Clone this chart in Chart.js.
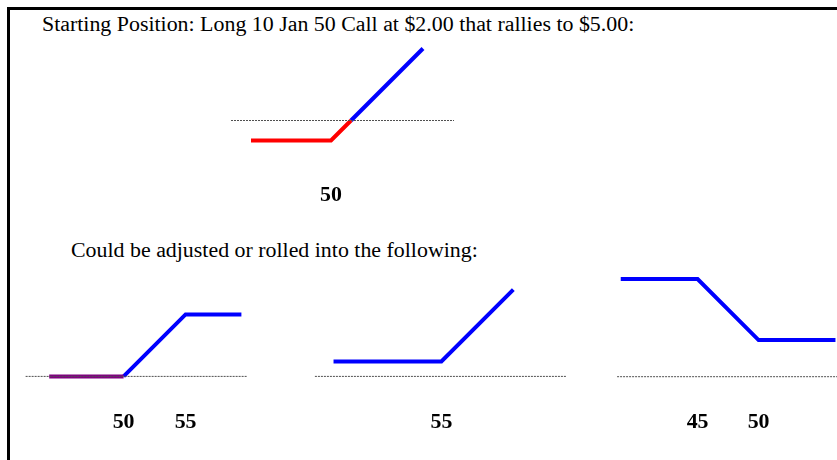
<!DOCTYPE html>
<html>
<head>
<meta charset="utf-8">
<title>Long call adjustments</title>
<script src="https://cdn.jsdelivr.net/npm/chart.js@4.4.0/dist/chart.umd.min.js"></script>
<style>
  html, body { margin: 0; padding: 0; background: #fff; }
  #page { position: relative; width: 837px; height: 460px; overflow: hidden; background: #fff; }
  #frame { position: absolute; left: 7px; top: 7px; width: 840px; height: 460px;
           border-top: 3px solid #000; border-left: 3px solid #000; }
  .caption { position: absolute; font-family: "Liberation Serif", "Times New Roman", serif;
             font-size: 21.9px; line-height: 21.9px; color: #000; white-space: nowrap; }
  canvas { position: absolute; }
</style>
</head>
<body>
<div id="page">
  <div id="frame"></div>
  <div class="caption" style="left:42px; top:12.5px;">Starting Position: Long 10 Jan 50 Call at $2.00 that rallies to $5.00:</div>
  <div class="caption" style="left:71px; top:238.5px;">Could be adjusted or rolled into the following:</div>
  <canvas id="startChart"></canvas>
  <canvas id="spreadChart"></canvas>
  <canvas id="rollChart"></canvas>
  <canvas id="bearChart"></canvas>
</div>
<script>
// ---- Payoff data: underlying price (x) against profit/loss per share (y) ----

// Starting position: long 50 call bought at 2.00
const startStrikes    = [50];
const startLossPrice  = [42, 50, 52];
const startLossPL     = [-2, -2, 0];
const startGainPrice  = [52, 59.2];
const startGainPL     = [0, 7.2];
const startZeroSpan   = [40, 62.3];

// 50/55 bull call spread
const spreadStrikes   = [50, 55];
const spreadFlatPrice = [44, 50];
const spreadFlatPL    = [0, 0];
const spreadUpPrice   = [50, 55, 59.5];
const spreadUpPL      = [0, 5, 5];
const spreadZeroSpan  = [42.1, 60];

// Rolled up into the 55 call
const rollStrikes     = [55];
const rollPrice       = [46.3, 55, 60.8];
const rollPL          = [1.2, 1.2, 7.0];
const rollZeroSpan    = [44.8, 65.1];

// 45/50 spread
const bearStrikes     = [45, 50];
const bearPrice       = [38.7, 45, 50, 56.3];
const bearPL          = [8, 8, 3, 3];
const bearZeroSpan    = [38.4, 56.5];

// ---- helpers ----
const pairs = (xs, ys) => xs.map((x, i) => ({ x, y: ys[i] }));
const zeroLine = span => ({
  data: span.map(x => ({ x, y: 0 })),
  borderColor: '#505050', borderWidth: 1, borderDash: [2, 1], order: 0
});
const payoff = (xs, ys, color) => ({
  data: pairs(xs, ys), borderColor: color, borderWidth: 4, order: 1
});

// Strike labels written under the zero line, placed with the x scale
const strikeLabels = {
  id: 'strikeLabels',
  afterDatasetsDraw(chart, args, opts) {
    const { ctx, scales: { x, y } } = chart;
    ctx.save();
    ctx.font = 'bold 21.9px "Liberation Serif", "Times New Roman", serif';
    ctx.fillStyle = '#000';
    ctx.textAlign = 'center';
    ctx.textBaseline = 'alphabetic';
    const base = y.getPixelForValue(0) + opts.gap;
    for (const v of opts.values) ctx.fillText(String(v), x.getPixelForValue(v), base);
    ctx.restore();
  }
};

function drawPayoff(id, box, range, datasets, strikes, gap) {
  const cv = document.getElementById(id);
  cv.width = box.w; cv.height = box.h;
  Object.assign(cv.style, { left: box.x + 'px', top: box.y + 'px', width: box.w + 'px', height: box.h + 'px' });
  new Chart(cv, {
    type: 'line',
    data: { datasets },
    options: {
      responsive: false, animation: false, devicePixelRatio: 1, events: [],
      layout: { padding: 0 },
      scales: {
        x: { type: 'linear', min: range.x0, max: range.x1, display: false },
        y: { type: 'linear', min: range.y0, max: range.y1, display: false }
      },
      elements: {
        point: { radius: 0 },
        line: { tension: 0, fill: false, borderCapStyle: 'butt', borderJoinStyle: 'miter' }
      },
      plugins: {
        legend: { display: false },
        tooltip: { enabled: false },
        strikeLabels: { values: strikes, gap }
      }
    },
    plugins: [strikeLabels]
  });
}

drawPayoff('startChart',
  { x: 221, y: 40, w: 250, h: 170 }, { x0: 39, x1: 64, y0: -8.95, y1: 8.05 },
  [ payoff(startLossPrice, startLossPL, '#ff0000'),
    payoff(startGainPrice, startGainPL, '#0000ff'),
    zeroLine(startZeroSpan) ],
  startStrikes, 80);

drawPayoff('spreadChart',
  { x: 12, y: 271, w: 248, h: 186 }, { x0: 41, x1: 61, y0: -6.5, y1: 8.5 },
  [ payoff(spreadFlatPrice, spreadFlatPL, '#800080'),
    payoff(spreadUpPrice, spreadUpPL, '#0000ff'),
    zeroLine(spreadZeroSpan) ],
  spreadStrikes, 51.5);

drawPayoff('rollChart',
  { x: 305, y: 271, w: 279, h: 186 }, { x0: 44, x1: 66.5, y0: -6.5, y1: 8.5 },
  [ payoff(rollPrice, rollPL, '#0000ff'),
    zeroLine(rollZeroSpan) ],
  rollStrikes, 51.5);

drawPayoff('bearChart',
  { x: 600, y: 273, w: 244, h: 183 }, { x0: 37, x1: 57, y0: -6.5, y1: 8.5 },
  [ payoff(bearPrice, bearPL, '#0000ff'),
    zeroLine(bearZeroSpan) ],
  bearStrikes, 51.5);
</script>
</body>
</html>
